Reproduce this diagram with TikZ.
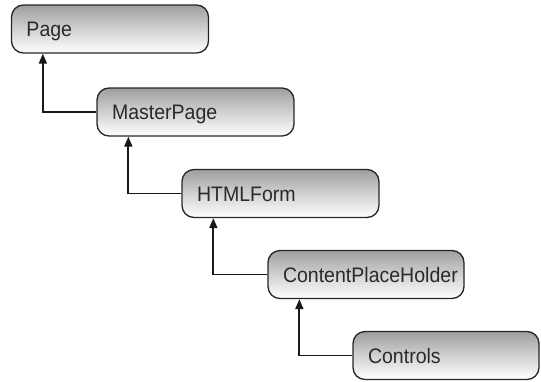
\documentclass[tikz,border=0pt]{standalone}
\usepackage{fontspec}
\setmainfont{Liberation Sans}[FakeStretch=0.93]
\usetikzlibrary{arrows.meta}
\definecolor{txt}{HTML}{2A2A2A}
\tikzset{
  cls/.style={draw=black!85, line width=1.3pt, rounded corners=12pt,
    top color=black!38, bottom color=white, middle color=black!18,
    minimum height=48pt, inner xsep=15pt, align=left, text=txt,
    text height=15pt, text depth=0pt,
    font=\fontsize{21}{24}\selectfont},
  inh/.style={draw=black!90, line width=1.8pt, -{Triangle[length=10pt,width=8pt]}}
}
\begin{document}
\begin{tikzpicture}[x=1pt,y=-1pt]
\useasboundingbox (0,0) rectangle (541,381);
\node[cls, text width=167pt] (page) at (110,29) {Page};
\node[cls, text width=167pt] (mp) at (195.5,112) {MasterPage};
\node[cls, text width=167pt] (hf) at (280.5,193.5) {HTMLForm};
\node[cls, text width=166pt] (cph) at (366,274.5) {ContentPlaceHolder};
\node[cls, text width=156pt] (ctl) at (446,355.5) {Controls};
\draw[inh] (mp.west) -| ([xshift=32pt]page.south west);
\draw[inh] (hf.west) -| ([xshift=32pt]mp.south west);
\draw[inh] (cph.west) -| ([xshift=32pt]hf.south west);
\draw[inh] (ctl.west) -| ([xshift=32pt]cph.south west);
\end{tikzpicture}
\end{document}
